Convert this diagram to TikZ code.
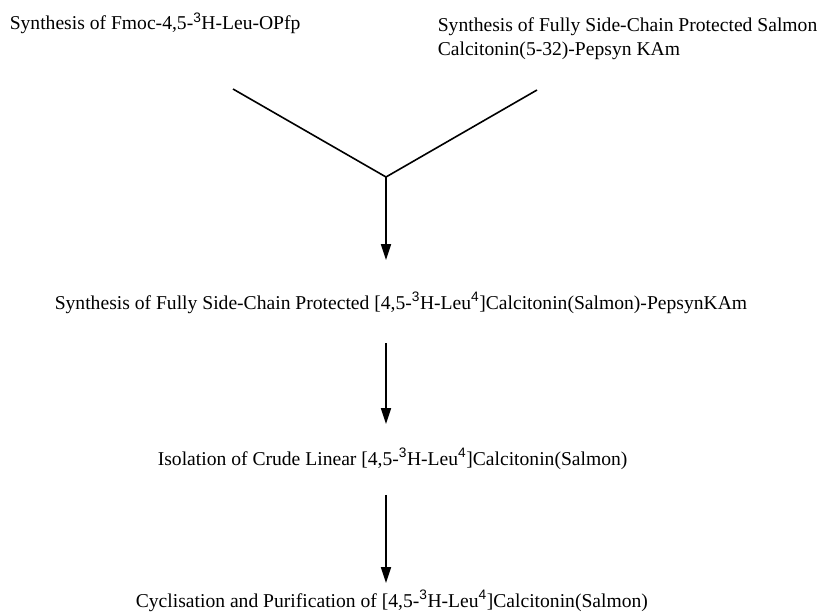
\documentclass[tikz,border=0pt]{standalone}
\usepackage{fontspec}
\setmainfont{Liberation Serif}
\setsansfont{Liberation Sans}
\usepackage{tikz}
\usetikzlibrary{positioning}
\usetikzlibrary{arrows.meta}
\tikzset{>={Triangle[width=10pt,length=16pt]}}
\newcommand{\isot}[1]{\textsuperscript{\sffamily #1}}

\begin{document}
\begin{tikzpicture}[x=1pt, y=-1pt, line width=1.6pt, textnode/.style={draw=none, fill=none, inner sep=0pt, anchor=base west, font=\fontsize{19.6}{24}\selectfont}]

    \useasboundingbox (0,0) rectangle (826,612);

    %Nodes
    \node[textnode](fmoc) at (9,30){Synthesis of Fmoc-4,5-\isot{3}H-Leu-OPfp};
    \node[textnode, align=left](salmon) at (437,56){Synthesis of Fully Side-Chain Protected Salmon\\Calcitonin(5-32)-Pepsyn KAm};
    \node[textnode](protected) at (54,309){Synthesis of Fully Side-Chain Protected [4,5-\isot{3}H-Leu\isot{4}]Calcitonin(Salmon)-PepsynKAm};
    \node[textnode](crude) at (157,465){Isolation of Crude Linear [4,5-\isot{3}H-Leu\isot{4}]Calcitonin(Salmon)};
    \node[textnode](cyclised) at (135,607){Cyclisation and Purification of [4,5-\isot{3}H-Leu\isot{4}]Calcitonin(Salmon)};
    \coordinate (leftend) at (233,89);
    \coordinate (rightend) at (537,90);
    \coordinate (join) at (386,177);

    %Lines
    \draw (leftend) -- (join) -- (rightend);
    \draw[->, shorten >=31pt] (join) -- (protected.north -| join);
    \draw[->, shorten <=29pt, shorten >=23pt] (protected.south -| join) -- (crude.north -| join);
    \draw[->, shorten <=25pt, shorten >=6pt] (crude.south -| join) -- (cyclised.north -| join);

\end{tikzpicture}
\end{document}
